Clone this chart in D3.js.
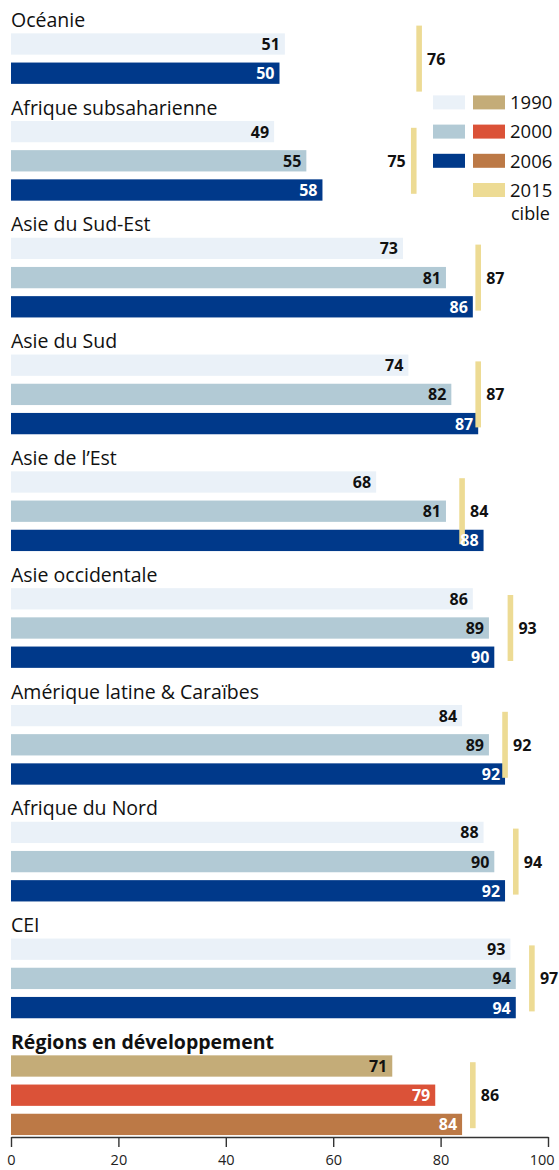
<!DOCTYPE html>
<html>
<head>
<meta charset="utf-8">
<script src="https://cdn.jsdelivr.net/npm/d3@7"></script>
<style>
  body { margin: 0; background: #fff; }
  svg { font-family: "Open Sans", "Noto Sans", sans-serif; display: block; }
</style>
</head>
<body>
<div id="chart"></div>
<script>
// data
const regions = ["Océanie", "Afrique subsaharienne", "Asie du Sud-Est", "Asie du Sud", "Asie de l’Est",
  "Asie occidentale", "Amérique latine & Caraïbes", "Afrique du Nord", "CEI", "Régions en développement"];
const v1990 = [51, 49, 73, 74, 68, 86, 84, 88, 93, 71];
const v2000 = [null, 55, 81, 82, 81, 89, 89, 90, 94, 79];
const v2006 = [50, 58, 86, 87, 88, 90, 92, 92, 94, 84];
const target2015 = [76, 75, 87, 87, 84, 93, 92, 94, 97, 86];
const years = ["1990", "2000", "2006"];
const legendLabels = ["1990", "2000", "2006", "2015"];
const xTicks = [0, 20, 40, 60, 80, 100];

const w = 559, h = 1170;
const regionColors = ["#eaf1f8", "#b2cad5", "#00398a"];
const totalColors = ["#c4ac78", "#db5238", "#bc7946"];
const targetColor = "#eddb94";

// one row per title and per bar
const rows = [];
const groups = [];
regions.forEach((r, i) => {
  const isTotal = i === regions.length - 1;
  rows.push({type: "title", name: r, bold: isTotal});
  const first = rows.length;
  [v1990, v2000, v2006].forEach((arr, k) => {
    if (arr[i] == null) return;
    rows.push({type: "bar", value: arr[i], k: k, total: isTotal});
  });
  groups.push({first: first, last: rows.length - 1, target: target2015[i], left: i === 1});
});

const x = d3.scaleLinear().domain([0, 100]).range([11, 548]);
const y = d3.scaleBand().domain(d3.range(rows.length)).range([0.2, 1139]).paddingInner(0.27).paddingOuter(0.135);

const svg = d3.select("#chart").append("svg").attr("width", w).attr("height", h);

// titles
svg.append("g").selectAll("text")
  .data(rows.map((d, i) => ({...d, i})).filter(d => d.type === "title"))
  .join("text")
    .attr("x", 11)
    .attr("y", d => y(d.i) + y.bandwidth() + 1.5)
    .attr("font-size", 19.5)
    .attr("font-weight", d => d.bold ? 700 : 400)
    .attr("fill", "#111")
    .text(d => d.name);

const barRows = rows.map((d, i) => ({...d, i})).filter(d => d.type === "bar");

svg.append("g").selectAll("rect")
  .data(barRows)
  .join("rect")
    .attr("x", x(0))
    .attr("y", d => y(d.i))
    .attr("width", d => x(d.value) - x(0))
    .attr("height", y.bandwidth())
    .attr("fill", d => (d.total ? totalColors : regionColors)[d.k]);

// target lines
const tg = svg.append("g");
tg.selectAll("rect")
  .data(groups)
  .join("rect")
    .attr("x", d => x(d.target) - 2.8)
    .attr("y", d => (y(d.first) + y(d.last) + y.bandwidth()) / 2 - 33)
    .attr("width", 5.6)
    .attr("height", 66)
    .attr("fill", targetColor);

// bar values
svg.append("g").selectAll("text")
  .data(barRows)
  .join("text")
    .attr("x", d => x(d.value) - 5)
    .attr("y", d => y(d.i) + y.bandwidth() / 2)
    .attr("dy", "0.37em")
    .attr("text-anchor", "end")
    .attr("font-size", 16)
    .attr("font-weight", 700)
    .attr("fill", d => (d.k === 2 || (d.total && d.k === 1)) ? "#fff" : "#111")
    .text(d => d.value);

tg.selectAll("text")
  .data(groups)
  .join("text")
    .attr("x", d => d.left ? x(d.target) - 8 : x(d.target) + 8)
    .attr("y", d => (y(d.first) + y(d.last) + y.bandwidth()) / 2)
    .attr("dy", "0.37em")
    .attr("text-anchor", d => d.left ? "end" : "start")
    .attr("font-size", 16)
    .attr("font-weight", 700)
    .attr("fill", "#111")
    .text(d => d.target);

// legend
const lg = svg.append("g");
const legRow = i => y(3 + i) + y.bandwidth() / 2;
lg.selectAll("rect.reg")
  .data(regionColors)
  .join("rect")
    .attr("class", "reg")
    .attr("x", 433).attr("y", (d, i) => legRow(i) - 7)
    .attr("width", 32).attr("height", 14)
    .attr("fill", d => d);
lg.selectAll("rect.tot")
  .data(totalColors.concat([targetColor]))
  .join("rect")
    .attr("class", "tot")
    .attr("x", 473).attr("y", (d, i) => legRow(i) - 7)
    .attr("width", 32).attr("height", 14)
    .attr("fill", d => d);
lg.selectAll("text")
  .data(legendLabels)
  .join("text")
    .attr("x", 510).attr("y", (d, i) => legRow(i))
    .attr("dy", "0.37em")
    .attr("font-size", 18.5)
    .attr("fill", "#111")
    .text(d => d);
lg.append("text")
  .attr("x", 511).attr("y", legRow(3) + 30)
  .attr("font-size", 18)
  .attr("fill", "#111")
  .text("cible");

// axis
const axis = svg.append("g")
  .attr("transform", "translate(0,1137)")
  .call(d3.axisBottom(x).tickValues(xTicks).tickSize(10).tickSizeOuter(0).tickPadding(8));
axis.select(".domain").attr("stroke", "#333").attr("stroke-width", 1.4);
axis.selectAll(".tick line").attr("stroke", "#333").attr("stroke-width", 1.4);
axis.selectAll(".tick text").attr("font-size", 14.5).attr("fill", "#222").attr("font-family", "Open Sans, sans-serif")
  .filter(d => d === 100).attr("text-anchor", "end").attr("dx", 6);
</script>
</body>
</html>
